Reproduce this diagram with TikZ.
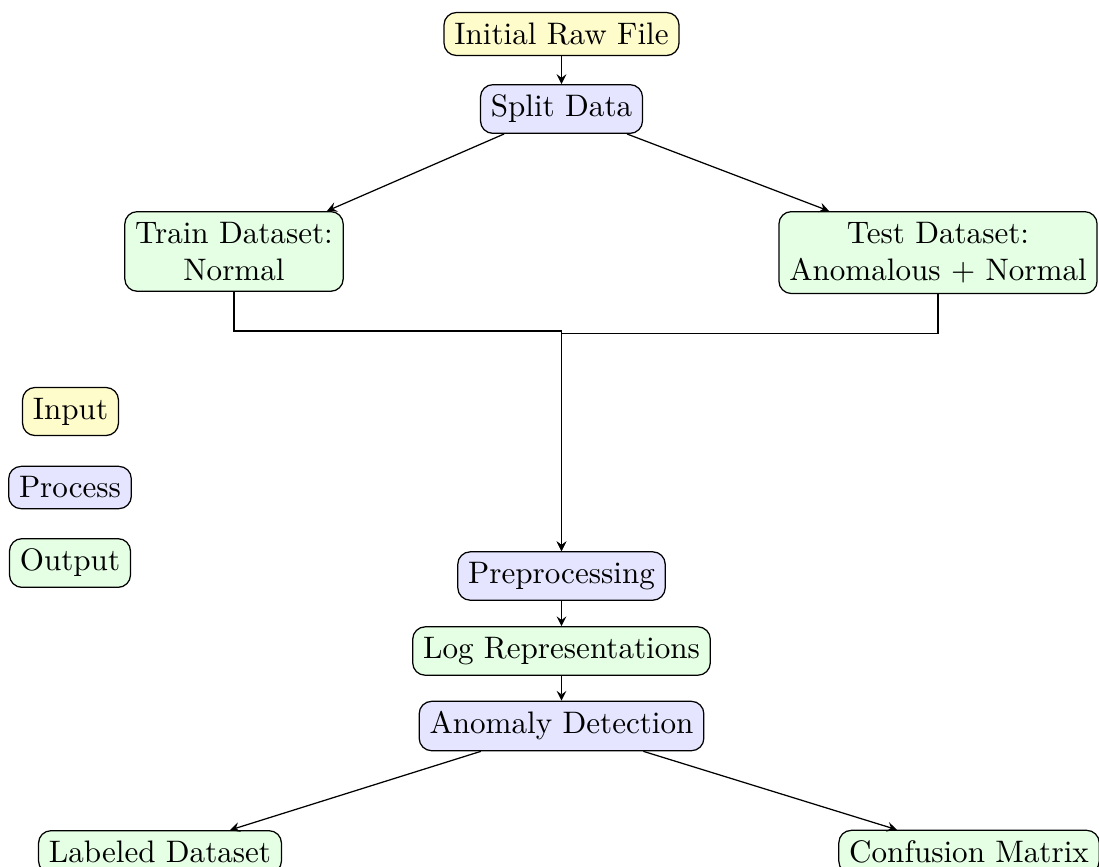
\documentclass[tikz,border=0pt]{standalone}
\usetikzlibrary{arrows}
\begin{document}
\begin{tikzpicture}[
  x=0.32154pt, y=-0.32154pt,
  >=stealth,
  box/.style={draw, rounded corners, align=center},
  inbox/.style={box, fill=yellow!20},
  procbox/.style={box, fill=blue!10},
  outbox/.style={box, fill=green!10},
  flow/.style={->}
]
\useasboundingbox (0,0) rectangle (1099,866);

% main pipeline
\node[inbox]   (raw)   at (561.5,34)  {Initial Raw File};
\node[procbox] (split) at (561.5,109) {Split Data};
\node[outbox, anchor=north] (train) at (234,211) {Train Dataset:\\Normal};
\node[outbox, anchor=north] (test)  at (938,211) {Test Dataset:\\Anomalous + Normal};
\node[procbox] (pre)   at (561.5,576) {Preprocessing};
\node[outbox]  (logr)  at (561.5,651) {Log Representations};
\node[procbox] (anom)  at (561.5,726) {Anomaly Detection};
\node[outbox]  (lab)   at (160,852)   {Labeled Dataset};
\node[outbox]  (conf)  at (969,852)   {Confusion Matrix};

% legend
\node[inbox]   (lgin)   at (70.5,411.5) {Input};
\node[procbox] (lgproc) at (70,487.5)   {Process};
\node[outbox]  (lgout)  at (70,563)     {Output};

% connectors
\draw[flow] (raw) -- (split);
\draw[flow] (split) -- (train);
\draw[flow] (split) -- (test);
\draw[flow] (train.south) -- ++(0,39) -| (pre.north);
\draw[flow] (test.south) -- ++(0,39) -| (pre.north);
\draw[flow] (pre) -- (logr);
\draw[flow] (logr) -- (anom);
\draw[flow] (anom) -- (lab);
\draw[flow] (anom) -- (conf);
\end{tikzpicture}
\end{document}
